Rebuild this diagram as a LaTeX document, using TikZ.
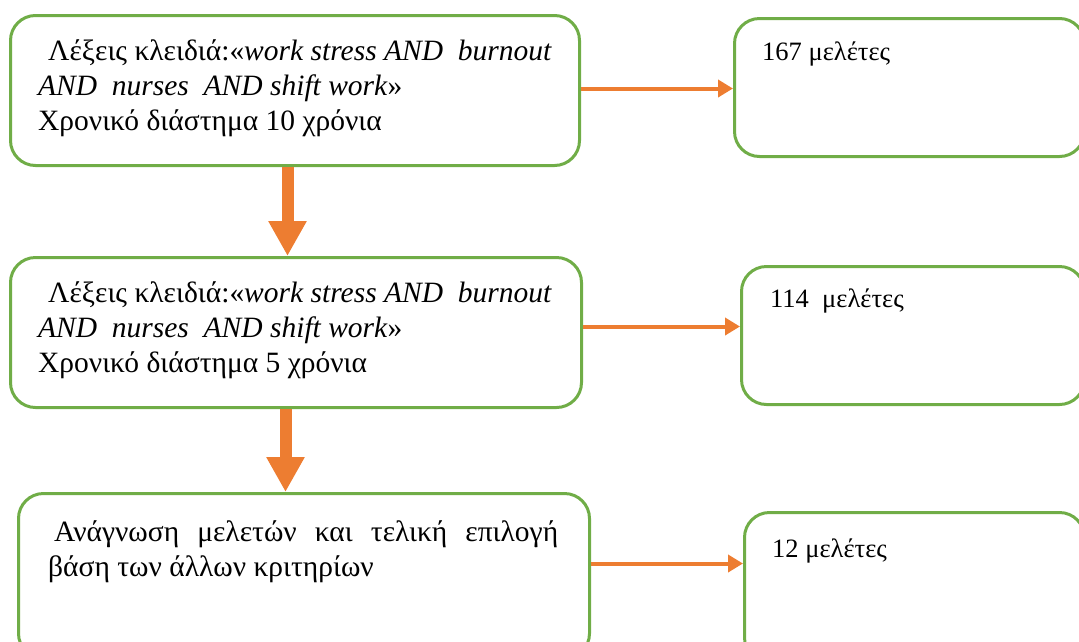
\documentclass[tikz,border=0pt]{standalone}
\usepackage{fontspec}
\setmainfont{Liberation Serif}
\usetikzlibrary{arrows.meta}
\definecolor{boxgreen}{HTML}{70AD47}
\definecolor{arrorange}{HTML}{ED7D31}
\begin{document}
\begin{tikzpicture}[x=1pt,y=-1pt,
  box/.style={draw=boxgreen, line width=3pt, rounded corners=25pt, fill=white, anchor=north west, inner sep=0pt},
  txt/.style={anchor=base west, inner sep=0pt, font=\fontsize{29.5}{35}\selectfont},
  stxt/.style={anchor=base west, inner sep=0pt, font=\fontsize{26.5}{32}\selectfont},
  harr/.style={draw=arrorange, line width=4pt, -{Triangle[width=17pt,length=15pt]}},
  varr/.style={draw=arrorange, line width=12pt, -{Triangle[width=36pt,length=35pt]}}]
\useasboundingbox (0,0) rectangle (1079,641);
% boxes
\node[box, minimum width=569pt, minimum height=150pt] (b1) at (9,14) {};
\node[box, minimum width=350pt, minimum height=138pt] (r1) at (733,17) {};
\node[box, minimum width=571pt, minimum height=150pt] (b2) at (9,256) {};
\node[box, minimum width=343pt, minimum height=138pt] (r2) at (740,265) {};
\node[box, minimum width=571pt, minimum height=165pt] (b3) at (17,492) {};
\node[box, minimum width=340pt, minimum height=150pt] (r3) at (743,511) {};
% texts
\node[txt] (t1a) at (48,60) {Λέξεις κλειδιά:«\textit{work stress AND\ \ burnout}};
\node[txt] (t1b) at (38,95) {\textit{AND\ \ nurses\ \ AND shift work}»};
\node[txt] (t1c) at (38,130) {Χρονικό διάστημα 10 χρόνια};
\node[txt] (t2a) at (48,302) {Λέξεις κλειδιά:«\textit{work stress AND\ \ burnout}};
\node[txt] (t2b) at (38,337) {\textit{AND\ \ nurses\ \ AND shift work}»};
\node[txt] (t2c) at (38,372) {Χρονικό διάστημα 5 χρόνια};
\node[txt] (t3a) at (54,541) {\makebox[504pt][s]{Ανάγνωση\hfill μελετών\hfill και\hfill τελική\hfill επιλογή}};
\node[txt] (t3b) at (48,576) {βάση των άλλων κριτηρίων};
\node[stxt] (s1) at (762,60) {167 μελέτες};
\node[stxt] (s2) at (770,307) {114\ \ μελέτες};
\node[stxt] (s3) at (772,557) {12 μελέτες};
% arrows
\draw[harr] ([yshift=2pt]b1.east) -- ([yshift=2pt]b1.east -| r1.west);
\draw[harr] ([yshift=6pt]b2.east) -- ([yshift=6pt]b2.east -| r2.west);
\draw[harr] ([yshift=12.5pt]b3.east) -- ([yshift=12.5pt]b3.east -| r3.west);
\draw[varr] ([xshift=-7.5pt]b1.south) -- ([xshift=-7.5pt]b1.south |- b2.north);
\draw[varr] ([xshift=-10.5pt]b2.south) -- ([xshift=-10.5pt]b2.south |- b3.north);
\end{tikzpicture}
\end{document}
